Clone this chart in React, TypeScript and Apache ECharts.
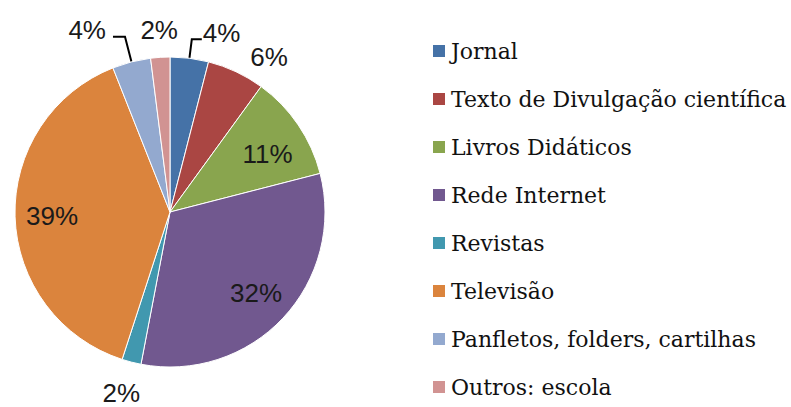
import React, { useEffect, useRef } from "react";
import * as echarts from "echarts";

const categories = [
  "Jornal",
  "Texto de Divulgação científica",
  "Livros Didáticos",
  "Rede Internet",
  "Revistas",
  "Televisão",
  "Panfletos, folders, cartilhas",
  "Outros: escola",
];
const values = [4, 6, 11, 32, 2, 39, 4, 2];
const colors = ["#4572A7", "#AA4643", "#89A54E", "#71588F", "#4198AF", "#DB843D", "#93A9CF", "#D19392"];

// label placement per category
const leaderLabels = ["Jornal", "Panfletos, folders, cartilhas"];
const innerLabels = ["Livros Didáticos", "Rede Internet", "Televisão"];
const outerLabels = ["Texto de Divulgação científica", "Revistas", "Outros: escola"];
// small nudges of labels (px)
const nudge: Record<string, [number, number]> = {
  "Texto de Divulgação científica": [19, 15],
  "Outros: escola": [1, 6],
  Revistas: [-2, -1],
  "Livros Didáticos": [0, 8],
  Jornal: [0, -6],
  "Panfletos, folders, cartilhas": [-1, -7],
};

const CX = 170;
const CY = 212;
const R = 155;
const pctFont = { fontFamily: "Liberation Sans", fontSize: 26, color: "#1a1a1a" };

export default function App() {
  const ref = useRef<HTMLDivElement>(null);
  useEffect(() => {
    document.body.style.margin = "0";
    const chart = echarts.init(ref.current!, null, { renderer: "svg" });
    const fmt = (p: any) => `${p.value}%`;
    const layout = (p: any) => {
      const n = nudge[categories[p.dataIndex]] || [0, 0];
      return { dx: n[0], dy: n[1], hideOverlap: false };
    };

    const mainData = categories.map((name, i) => {
      const item: any = {
        name,
        value: values[i],
        itemStyle: { color: colors[i] },
        label: { show: false },
        labelLine: { show: false },
      };
      if (name === "Jornal") {
        item.label = { show: true, distanceToLabelLine: 1 };
        item.labelLine = { show: true, length: 19, length2: 10 };
      }
      if (name === "Panfletos, folders, cartilhas") {
        item.label = { show: true, distanceToLabelLine: 6 };
        item.labelLine = { show: true, length: 26, length2: 12 };
      }
      return item;
    });

    const ringData = (list: string[]) =>
      categories.map((name, i) => ({
        name,
        value: values[i],
        label: { show: list.includes(name) },
      }));

    chart.setOption({
      animation: false,
      color: colors,
      legend: {
        orient: "vertical",
        left: 431,
        top: 40,
        padding: 0,
        icon: "rect",
        itemWidth: 14,
        itemHeight: 14,
        itemGap: 26,
        data: categories,
        selectedMode: false,
        textStyle: { fontFamily: "DejaVu Serif", fontSize: 22, lineHeight: 22, color: "#111" },
      },
      series: [
        {
          type: "pie",
          center: [CX, CY],
          radius: [0, R],
          startAngle: 90,
          clockwise: true,
          avoidLabelOverlap: false,
          silent: true,
          itemStyle: { borderColor: "#ffffff", borderWidth: 1 },
          label: { position: "outside", formatter: fmt, ...pctFont },
          labelLine: { lineStyle: { color: "#000", width: 2 }, smooth: false },
          labelLayout: layout,
          data: mainData,
        },
        {
          type: "pie",
          center: [CX, CY],
          radius: [75, R],
          startAngle: 90,
          clockwise: true,
          silent: true,
          avoidLabelOverlap: false,
          itemStyle: { color: "transparent", borderWidth: 0 },
          label: { position: "inside", formatter: fmt, ...pctFont },
          labelLine: { show: false },
          labelLayout: layout,
          data: ringData(innerLabels),
        },
        {
          type: "pie",
          center: [CX, CY],
          radius: [R, 215],
          startAngle: 90,
          clockwise: true,
          silent: true,
          avoidLabelOverlap: false,
          itemStyle: { color: "transparent", borderWidth: 0 },
          label: { position: "inside", formatter: fmt, ...pctFont },
          labelLine: { show: false },
          labelLayout: layout,
          data: ringData(outerLabels),
        },
      ],
    });
    return () => chart.dispose();
  }, []);
  return <div ref={ref} style={{ width: 791, height: 407 }} />;
}
